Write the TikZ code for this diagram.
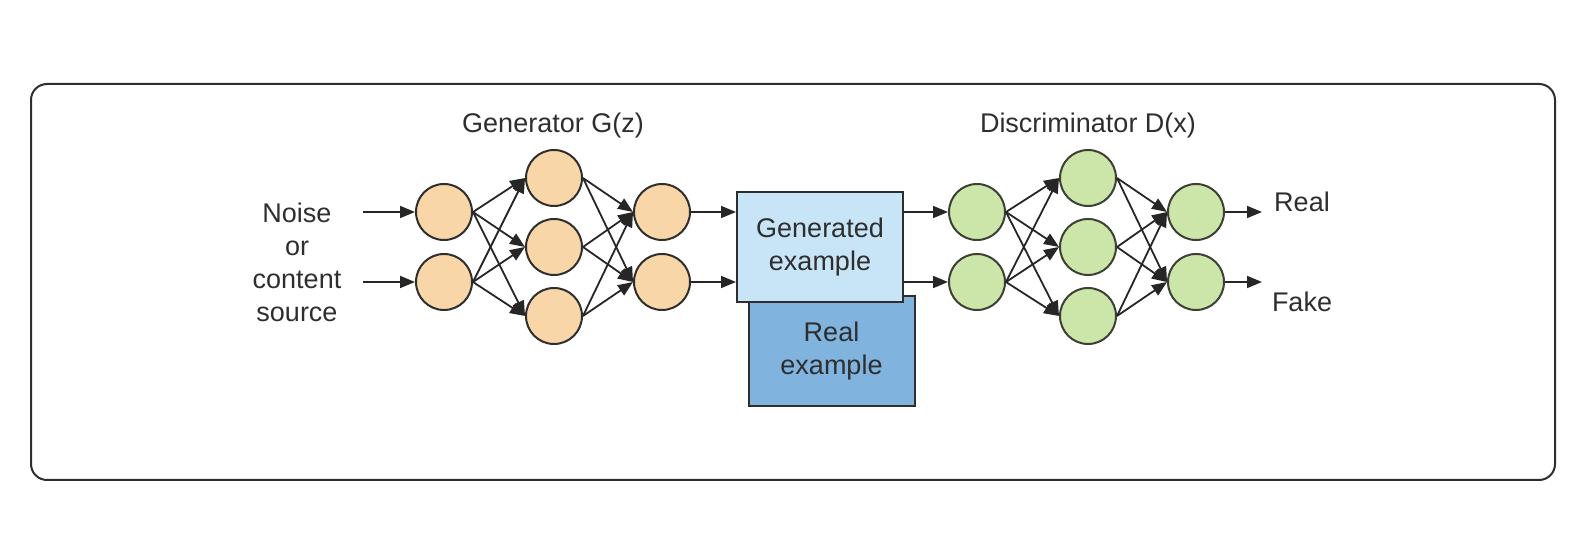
\documentclass[tikz,border=0pt]{standalone}
\usepackage{fontspec}
\setmainfont{Liberation Sans}
\usepackage{tikz}
\usetikzlibrary{arrows.meta}

\definecolor{peach}{HTML}{F9D6A8}
\definecolor{leaf}{HTML}{CCE5A8}
\definecolor{paleblue}{HTML}{C8E4F7}
\definecolor{midblue}{HTML}{80B3DD}
\definecolor{ink}{HTML}{2E2E2E}

\begin{document}
\begin{tikzpicture}[x=0.5pt, y=-0.5pt,
    lbl/.style={text=ink, font=\fontsize{13.5}{16.5}\selectfont, align=center, inner sep=0pt},
    gnode/.style={circle, draw=ink, line width=1pt, fill=peach, minimum size=28pt, inner sep=0pt},
    dnode/.style={circle, draw=black!60!leaf!40!ink, line width=1pt, fill=leaf, minimum size=28pt, inner sep=0pt},
    sample/.style={rectangle, draw=ink, line width=1pt, minimum width=83pt, minimum height=55pt, lbl},
    arr/.style={draw=black!85, line width=0.9pt, -{Triangle[length=7.5pt, width=6pt]}}]
    \useasboundingbox (0,0) rectangle (1591,555);

    % draw frame
    \draw[ink, line width=1pt, rounded corners=8pt] (31,84) rectangle (1555,480);

    % draw titles
    \node[lbl, anchor=base] (gtitle) at (553,133) {Generator G(z)};
    \node[lbl, anchor=base] (dtitle) at (1088,133) {Discriminator D(x)};
    \node[lbl] (source) at (297,262) {Noise\\or\\content\\source};

    % draw generator layers
    \foreach \i/\y in {1/212,2/282}
      \node[gnode] (ga\i) at (444,\y) {};
    \foreach \i/\y in {1/178,2/247,3/316}
      \node[gnode] (gb\i) at (554,\y) {};
    \foreach \i/\y in {1/212,2/282}
      \node[gnode] (gc\i) at (662,\y) {};

    % draw discriminator layers
    \foreach \i/\y in {1/212,2/282}
      \node[dnode] (da\i) at (977,\y) {};
    \foreach \i/\y in {1/178,2/247,3/316}
      \node[dnode] (db\i) at (1088,\y) {};
    \foreach \i/\y in {1/212,2/282}
      \node[dnode] (dc\i) at (1196,\y) {};

    % draw example boxes
    \node[sample, fill=midblue] (real) at (831.5,351.5) {Real\\example};
    \node[sample, fill=paleblue] (gen) at (820,247) {Generated\\example};

    % draw outputs
    \node[lbl, anchor=base] (yes) at (1302,212) {Real};
    \node[lbl, anchor=base] (no) at (1302,312) {Fake};

    % draw connections
    \foreach \i in {1,2} {
      \foreach \j in {1,2,3} {
        \draw[arr] (ga\i.east) -- (gb\j.west);
        \draw[arr] (da\i.east) -- (db\j.west);
        \draw[arr] (gb\j.east) -- (gc\i.west);
        \draw[arr] (db\j.east) -- (dc\i.west);
      }
    }
    \coordinate (in1) at (363,212);
    \coordinate (in2) at (363,282);
    \coordinate (out1) at (1262,212);
    \coordinate (out2) at (1262,282);
    \foreach \i in {1,2} {
      \draw[arr] (in\i) -- (ga\i.west);
      \draw[arr] (gc\i.east) -- (gen.west |- gc\i.east);
      \draw[arr] (gen.east |- da\i.west) -- (da\i.west);
      \draw[arr] (dc\i.east) -- (out\i);
    }
  \end{tikzpicture}
\end{document}
